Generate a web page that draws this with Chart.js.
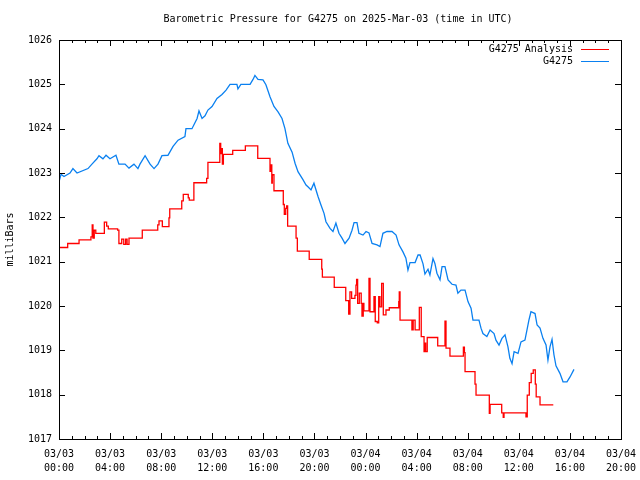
<!DOCTYPE html>
<html>
<head>
<meta charset="utf-8">
<title>Barometric Pressure G4275</title>
<script src="https://cdn.jsdelivr.net/npm/chart.js@4/dist/chart.umd.min.js"></script>
<style>
  body { margin: 0; background: #fff; }
  canvas { display: block; }
</style>
</head>
<body>
<canvas id="chart" width="640" height="480"></canvas>
<script>
// Hours since 03/03 00:00 UTC, and pressure in millibars
const stationHours = [
    0, 0.16, 0.39, 0.86, 1.09, 1.41, 2.27, 2.58, 2.97, 3.13, 3.44, 3.68, 3.99, 4.46, 4.69, 5.17,
    5.48, 5.87, 6.18, 6.34, 6.74, 7.13, 7.44, 7.75, 8.06, 8.53, 8.93, 9.32, 9.86, 9.94, 10.41, 10.81,
    10.96, 11.20, 11.43, 11.66, 11.98, 12.37, 12.76, 13.08, 13.39, 13.93, 14.01, 14.24, 14.96, 15.19,
    15.34, 15.58, 15.97, 16.20, 16.52, 16.83, 17.15, 17.46, 17.69, 17.92, 18.25, 18.48, 18.71, 19.10,
    19.34, 19.49, 19.73, 19.96, 20.28, 20.51, 20.75, 20.90, 21.22, 21.45, 21.68, 21.92, 22.16, 22.39,
    22.71, 22.94, 23.10, 23.33, 23.48, 23.80, 24.04, 24.27, 24.51, 24.90, 25.13, 25.36, 25.68, 26.07,
    26.39, 26.62, 26.93, 27.16, 27.32, 27.48, 27.88, 28.11, 28.27, 28.50, 28.65, 28.89, 29.04, 29.28,
    29.43, 29.59, 29.83, 29.99, 30.22, 30.46, 30.77, 31.08, 31.23, 31.47, 31.79, 32.02, 32.26, 32.41,
    32.88, 33.04, 33.19, 33.50, 33.75, 34.06, 34.21, 34.45, 34.68, 34.92, 35.15, 35.30, 35.47, 35.63,
    35.94, 36.17, 36.48, 36.64, 36.79, 36.95, 37.27, 37.43, 37.66, 37.89, 38.13, 38.28, 38.44, 38.60,
    38.75, 38.91, 39.22, 39.46, 39.77, 40.01, 40.32
];
const stationValues = [
    1022.80, 1022.97, 1022.92, 1023.00, 1023.10, 1023.00, 1023.10, 1023.20, 1023.32, 1023.39, 1023.32, 1023.40, 1023.32, 1023.40, 1023.20, 1023.20,
    1023.11, 1023.20, 1023.10, 1023.20, 1023.39, 1023.20, 1023.10, 1023.20, 1023.39, 1023.40, 1023.60, 1023.74, 1023.82, 1024.00, 1024.00, 1024.23,
    1024.40, 1024.23, 1024.29, 1024.42, 1024.50, 1024.68, 1024.77, 1024.87, 1025.00, 1025.00, 1024.90, 1025.00, 1025.00, 1025.11,
    1025.20, 1025.11, 1025.10, 1024.99, 1024.72, 1024.50, 1024.38, 1024.23, 1024.00, 1023.67, 1023.47, 1023.22, 1023.03, 1022.85,
    1022.73, 1022.69, 1022.62, 1022.77, 1022.47, 1022.28, 1022.09, 1021.90, 1021.75, 1021.68, 1021.87, 1021.64, 1021.53, 1021.41,
    1021.53, 1021.71, 1021.88, 1021.88, 1021.64, 1021.60, 1021.68, 1021.65, 1021.41, 1021.38, 1021.34, 1021.64, 1021.68, 1021.68,
    1021.60, 1021.38, 1021.22, 1021.08, 1020.81, 1020.98, 1020.98, 1021.15, 1021.15, 1020.95, 1020.72, 1020.83, 1020.70, 1021.07,
    1020.96, 1020.74, 1020.59, 1020.89, 1020.89, 1020.59, 1020.49, 1020.47, 1020.29, 1020.36, 1020.36, 1020.10, 1019.95, 1019.68,
    1019.68, 1019.50, 1019.38, 1019.31, 1019.46, 1019.38, 1019.23, 1019.12, 1019.27, 1019.35, 1019.08, 1018.82, 1018.70, 1018.97,
    1018.93, 1019.19, 1019.23, 1019.46, 1019.68, 1019.87, 1019.83, 1019.57, 1019.50, 1019.27, 1019.12, 1018.78, 1019.08, 1019.25,
    1018.90, 1018.65, 1018.48, 1018.29, 1018.29, 1018.40, 1018.57
];

// Analysis values change in steps: each entry is the time of a change and the new value
const analysisHours = [
    0, 0.68, 1.57, 2.50, 2.60, 2.66, 2.76, 2.88, 3.55, 3.73, 3.86, 4.59, 4.69, 4.91, 5.07, 5.22,
    5.33, 5.48, 6.52, 7.73, 7.83, 8.09, 8.61, 8.67, 9.61, 9.73, 10.12, 10.20, 10.56, 11.56, 11.66,
    12.59, 12.66, 12.74, 12.79, 12.87, 13.60, 14.59, 15.56, 16.52, 16.60, 16.66, 16.70, 16.83, 17.56,
    17.64, 17.75, 17.82, 17.90, 18.56, 18.66, 19.59, 20.57, 20.62, 21.55, 22.45, 22.68, 22.78, 22.91,
    23.17, 23.25, 23.30, 23.38, 23.51, 23.66, 23.72, 23.82, 23.87, 24.27, 24.35, 24.66, 24.76, 24.92,
    25.03, 25.13, 25.26, 25.39, 25.60, 25.86, 26.60, 26.64, 26.70, 27.63, 27.73, 27.88, 28.21, 28.36,
    28.58, 28.65, 28.71, 28.83, 29.65, 30.22, 30.30, 30.61, 31.66, 31.74, 31.79, 32.57, 32.65, 33.69,
    33.75, 34.66, 34.78, 34.84, 36.56, 36.66, 36.82, 36.97, 37.13, 37.29, 37.36, 37.66, 38.70
];
const analysisValues = [
    1021.32, 1021.41, 1021.49, 1021.56, 1021.83, 1021.53, 1021.71, 1021.64, 1021.89, 1021.80, 1021.74, 1021.71, 1021.41, 1021.51, 1021.39, 1021.51,
    1021.39, 1021.53, 1021.71, 1021.83, 1021.92, 1021.79, 1021.99, 1022.19, 1022.37, 1022.52, 1022.44, 1022.39, 1022.78, 1022.88, 1023.24,
    1023.67, 1023.44, 1023.55, 1023.20, 1023.42, 1023.51, 1023.61, 1023.33, 1023.04, 1023.18, 1022.77, 1022.96, 1022.60, 1022.29,
    1022.07, 1022.20, 1022.26, 1021.80, 1021.53, 1021.24, 1021.05, 1020.83, 1020.65, 1020.42, 1020.12, 1019.82, 1020.32, 1020.17,
    1020.24, 1020.47, 1020.60, 1020.06, 1020.29, 1020.06, 1019.77, 1020.06, 1019.89, 1020.62, 1019.87, 1020.21, 1019.65, 1019.62,
    1020.21, 1019.98, 1020.51, 1019.80, 1019.91, 1019.96, 1020.10, 1020.32, 1019.68, 1019.46, 1019.68, 1019.46, 1019.97, 1019.31,
    1018.97, 1019.16, 1018.97, 1019.29, 1019.10, 1019.66, 1019.05, 1018.87, 1019.07, 1018.95, 1018.52, 1018.24, 1017.99, 1017.58,
    1017.78, 1017.59, 1017.49, 1017.59, 1017.50, 1017.99, 1018.27, 1018.48, 1018.56, 1018.24, 1017.95, 1017.77, 1017.77
];

// Tick labels, one per 4 hours
const tickDates = ['03/03', '03/03', '03/03', '03/03', '03/03', '03/03', '03/04', '03/04', '03/04', '03/04', '03/04', '03/04'];
const tickTimes = ['00:00', '04:00', '08:00', '12:00', '16:00', '20:00', '00:00', '04:00', '08:00', '12:00', '16:00', '20:00'];

const FONT = '"DejaVu Sans Mono", "Liberation Mono", monospace';

function toPoints(xs, ys) {
    return xs.map((x, i) => ({ x: x, y: ys[i] }));
}

// Border box, inward ticks on all four sides, title and legend (gnuplot look)
const framePlugin = {
    id: 'frame',
    afterDraw(chart) {
        const ctx = chart.ctx;
        const a = chart.chartArea;
        const xs = chart.scales.x;
        const ys = chart.scales.y;
        ctx.save();
        ctx.strokeStyle = '#000';
        ctx.lineWidth = 1;
        ctx.beginPath();
        // x ticks every hour, long every 4 hours
        for (let h = 0; h <= 44; h++) {
            const px = Math.round(xs.getPixelForValue(h)) + 0.5;
            const len = h % 4 === 0 ? 6 : 3;
            ctx.moveTo(px, a.bottom); ctx.lineTo(px, a.bottom - len);
            ctx.moveTo(px, a.top); ctx.lineTo(px, a.top + len);
        }
        for (let v = 1017; v <= 1026; v++) {
            const py = Math.round(ys.getPixelForValue(v)) + 0.5;
            ctx.moveTo(a.left, py); ctx.lineTo(a.left + 6, py);
            ctx.moveTo(a.right, py); ctx.lineTo(a.right - 6, py);
        }
        ctx.stroke();
        ctx.strokeRect(Math.round(a.left) + 0.5, Math.round(a.top) + 0.5,
            Math.round(a.right - a.left), Math.round(a.bottom - a.top));

        ctx.fillStyle = '#000';
        ctx.font = '10px ' + FONT;
        ctx.textBaseline = 'middle';
        ctx.textAlign = 'center';
        ctx.fillText('Barometric Pressure for G4275 on 2025-Mar-03 (time in UTC)', 338, 19);

        // legend
        ctx.textAlign = 'right';
        chart.data.datasets.forEach((ds, i) => {
            const y = 49.5 + i * 12;
            ctx.fillText(ds.label, 573, y);
            ctx.strokeStyle = ds.borderColor;
            ctx.beginPath();
            ctx.moveTo(581, y); ctx.lineTo(609, y);
            ctx.stroke();
        });
        ctx.restore();
    }
};

new Chart(document.getElementById('chart'), {
    type: 'line',
    data: {
        datasets: [
            {
                label: 'G4275 Analysis',
                data: toPoints(analysisHours, analysisValues),
                borderColor: '#ff0000',
                borderWidth: 1.3,
                pointRadius: 0,
                stepped: true,
                fill: false
            },
            {
                label: 'G4275',
                data: toPoints(stationHours, stationValues),
                borderColor: '#0a80f0',
                borderWidth: 1.3,
                pointRadius: 0,
                tension: 0,
                fill: false
            }
        ]
    },
    options: {
        responsive: false,
        animation: false,
        devicePixelRatio: 1,
        layout: { padding: { top: 40, right: 19, left: 0, bottom: 0 } },
        plugins: {
            legend: { display: false },
            title: { display: false },
            tooltip: { enabled: false }
        },
        scales: {
            x: {
                type: 'linear',
                min: 0,
                max: 44,
                afterFit(scale) {
                    scale.height = 41;
                    scale.paddingLeft = 0;
                    scale.paddingRight = 0;
                },
                grid: { display: false, drawTicks: false },
                border: { display: false },
                ticks: {
                    stepSize: 4,
                    autoSkip: false,
                    maxRotation: 0,
                    padding: 8,
                    color: '#000',
                    font: { family: FONT, size: 10, lineHeight: 1.4 },
                    callback: (v) => {
                        const i = Math.round(v / 4);
                        return [tickDates[i], tickTimes[i]];
                    }
                }
            },
            y: {
                min: 1017,
                max: 1026,
                afterFit(scale) {
                    scale.width = 59;
                    scale.paddingTop = 0;
                    scale.paddingBottom = 0;
                },
                grid: { display: false, drawTicks: false },
                border: { display: false },
                title: {
                    display: true,
                    text: 'milliBars',
                    color: '#000',
                    font: { family: FONT, size: 10 },
                    padding: { top: 4, bottom: 0 }
                },
                ticks: {
                    stepSize: 1,
                    padding: 7,
                    color: '#000',
                    font: { family: FONT, size: 10 },
                    callback: (v) => String(v)
                }
            }
        }
    },
    plugins: [framePlugin]
});
</script>
</body>
</html>
